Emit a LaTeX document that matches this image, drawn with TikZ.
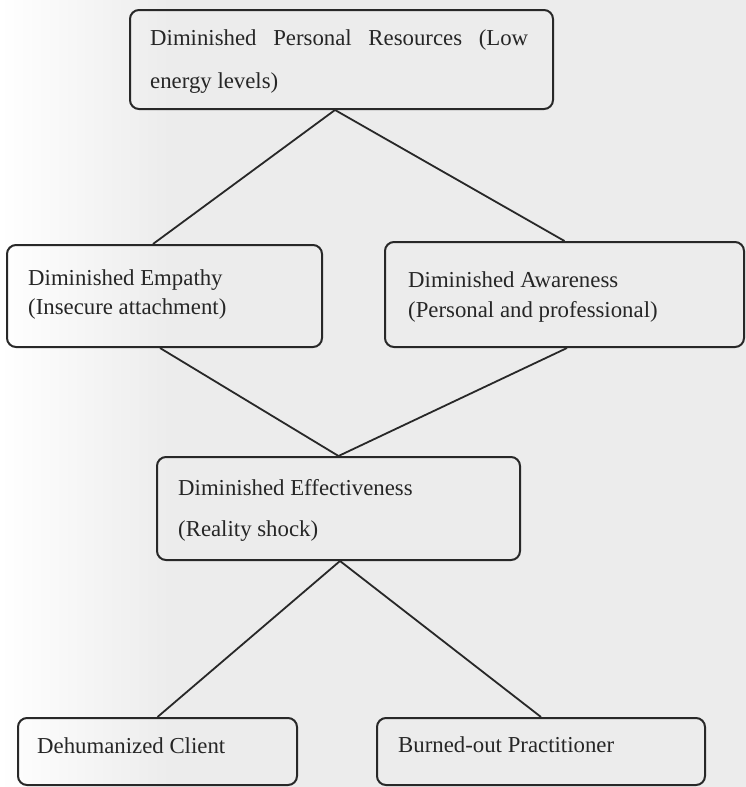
\documentclass[tikz,border=0pt]{standalone}
\usepackage{fontspec}
\setmainfont{Liberation Serif}
\usetikzlibrary{calc}
\definecolor{bgc}{RGB}{236,236,236}
\definecolor{inkc}{RGB}{40,40,40}
\definecolor{txtc}{RGB}{38,38,38}
\tikzset{
  box/.style={draw=inkc, line width=2pt, rounded corners=9pt, rectangle, inner sep=0pt},
  lbl/.style={anchor=base west, inner sep=0pt, text=txtc, font=\fontsize{22.8}{27}\selectfont},
  link/.style={draw=inkc, line width=1.8pt}
}
\begin{document}
\begin{tikzpicture}[x=1pt, y=-1pt]
\useasboundingbox (0,0) rectangle (746,787);
\fill[bgc] (0,0) rectangle (746,787);
\shade[left color=white, right color=bgc] (0,0) rectangle (170,787);
% boxes
\node[box, minimum width=423pt, minimum height=99pt] (top) at (341.5,59.5) {};
\node[box, minimum width=315pt, minimum height=102pt] (emp) at (164.5,296) {};
\node[box, minimum width=359pt, minimum height=105pt] (aw) at (564.5,294.5) {};
\node[box, minimum width=363pt, minimum height=103pt] (eff) at (338.5,508.5) {};
\node[box, minimum width=279pt, minimum height=67pt] (dc) at (157.5,751.5) {};
\node[box, minimum width=328pt, minimum height=67pt] (bp) at (541,751.5) {};
% texts
\node[lbl] (t1) at (150,45) {\makebox[378pt][s]{Diminished Personal Resources (Low}};
\node[lbl] (t2) at (150,88) {energy levels)};
\node[lbl] (e1) at (28,285) {Diminished Empathy};
\node[lbl] (e2) at (28,314) {(Insecure attachment)};
\node[lbl] (a1) at (408,287) {Diminished Awareness};
\node[lbl] (a2) at (408,317) {(Personal and professional)};
\node[lbl] (f1) at (178,495) {Diminished Effectiveness};
\node[lbl] (f2) at (178,536) {(Reality shock)};
\node[lbl] (d1) at (37,753) {Dehumanized Client};
\node[lbl] (b1) at (398,752) {Burned-out Practitioner};
% connectors
\draw[link] ([xshift=-6.5pt]top.south) -- ([xshift=-11.5pt]emp.north);
\draw[link] ([xshift=-6.5pt]top.south) -- (aw.north);
\draw[link] ([xshift=-4.5pt]emp.south) -- (eff.north);
\draw[link] ([xshift=2.5pt]aw.south) -- (eff.north);
\draw[link] ([xshift=1.5pt]eff.south) -- (dc.north);
\draw[link] ([xshift=1.5pt]eff.south) -- (bp.north);
\end{tikzpicture}
\end{document}
